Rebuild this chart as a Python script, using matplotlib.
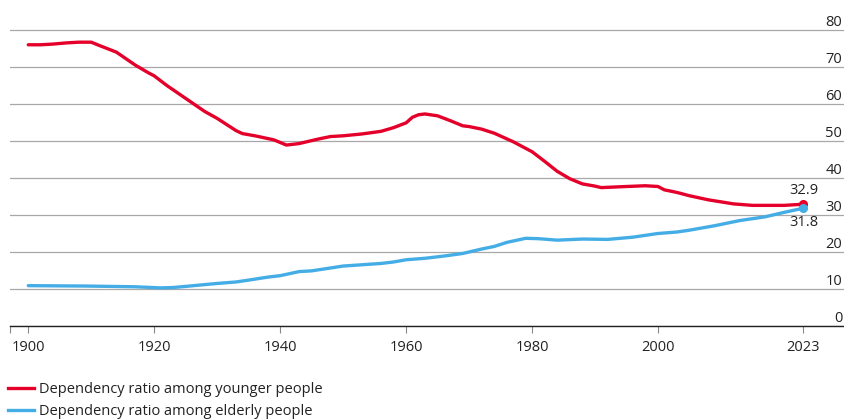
import numpy as np
import matplotlib
matplotlib.use("Agg")
import matplotlib.pyplot as plt
from matplotlib.lines import Line2D

plt.rcParams['font.family'] = ['Open Sans', 'DejaVu Sans']

# dependency ratio, younger people (per 100 working age)
young_years = [1900, 1902, 1904, 1906, 1908, 1910, 1911, 1914, 1917, 1919, 1920,
               1922, 1925, 1928, 1930, 1933, 1934, 1936, 1939, 1941, 1943, 1946,
               1948, 1950, 1953, 1956, 1958, 1960, 1961, 1962, 1963, 1965, 1967,
               1969, 1970, 1972, 1974, 1977, 1980, 1982, 1984, 1986, 1988, 1990,
               1991, 1995, 1998, 2000, 2001, 2003, 2005, 2008, 2012, 2015, 2020,
               2022, 2023]
young_vals = [76.0, 76.0, 76.2, 76.5, 76.7, 76.7, 76.0, 74.0, 70.5, 68.5, 67.6,
              65.0, 61.5, 58.0, 56.1, 52.8, 52.0, 51.4, 50.3, 48.9, 49.3, 50.5,
              51.2, 51.4, 51.9, 52.6, 53.6, 54.9, 56.4, 57.1, 57.3, 56.8, 55.5,
              54.1, 53.9, 53.2, 52.1, 49.8, 47.1, 44.5, 41.8, 39.8, 38.4, 37.8,
              37.4, 37.7, 37.9, 37.7, 36.8, 36.1, 35.2, 34.1, 33.0, 32.6, 32.6,
              32.8, 32.9]

# dependency ratio, elderly people
old_years = [1900, 1909, 1917, 1921, 1923, 1925, 1930, 1933, 1935, 1938, 1940,
             1943, 1945, 1950, 1956, 1958, 1960, 1963, 1966, 1969, 1972, 1974,
             1976, 1979, 1981, 1984, 1988, 1992, 1996, 2000, 2003, 2005, 2009,
             2013, 2017, 2020, 2023]
old_vals = [10.9, 10.8, 10.6, 10.3, 10.4, 10.7, 11.5, 11.9, 12.4, 13.2, 13.6,
            14.7, 14.9, 16.2, 16.9, 17.3, 17.9, 18.3, 18.9, 19.6, 20.8, 21.5,
            22.6, 23.7, 23.6, 23.2, 23.5, 23.4, 24.0, 25.0, 25.4, 25.9, 27.1,
            28.5, 29.5, 30.7, 31.8]

x_ticks = [1900, 1920, 1940, 1960, 1980, 2000, 2023]
y_ticks = [0, 10, 20, 30, 40, 50, 60, 70, 80]

RED = "#e4002b"
BLUE = "#45ade6"
GRID = "#a8a8a8"

W, H = 845, 419
fig = plt.figure(figsize=(W / 100, H / 100), dpi=100)
ax = fig.add_axes([10 / W, (H - 326) / H, 835 / W, 326 / H])

ax.plot(young_years, young_vals, color=RED, lw=2.4, solid_capstyle='round', zorder=3)
ax.plot(old_years, old_vals, color=BLUE, lw=2.4, solid_capstyle='round', zorder=3)
ax.plot(young_years[-1], young_vals[-1], 'o', color=RED, ms=5.5, zorder=4)
ax.plot(old_years[-1], old_vals[-1], 'o', color=BLUE, ms=5.5, zorder=4)

ax.annotate(f"{young_vals[-1]:.1f}", (young_years[-1], young_vals[-1]),
            xytext=(1, 10), textcoords='offset points', ha='center', va='center',
            fontsize=10.5, color='#222222')
ax.annotate(f"{old_vals[-1]:.1f}", (old_years[-1], old_vals[-1]),
            xytext=(1, -10), textcoords='offset points', ha='center', va='center',
            fontsize=10.5, color='#222222')

ax.set_xlim(1897.1, 2029.7)
ax.set_ylim(0, 88.1)

for s in ['top', 'right', 'left']:
    ax.spines[s].set_visible(False)
ax.spines['bottom'].set_color('#222222')
ax.spines['bottom'].set_linewidth(1.0)

ax.set_xticks(x_ticks)
ax.set_xticks([1897.1], minor=True)
ax.tick_params(axis='x', which='both', length=5, width=0.8, color='#888888',
               pad=5, labelsize=10.5, labelcolor='#222222')

ax.set_yticks(y_ticks)
ax.yaxis.tick_right()
ax.tick_params(axis='y', length=0, pad=-2, labelsize=10.5, labelcolor='#222222')
for lab in ax.get_yticklabels():
    lab.set_horizontalalignment('right')
    lab.set_verticalalignment('bottom')
ax.grid(axis='y', color=GRID, lw=0.9)
ax.set_axisbelow(True)

handles = [Line2D([], [], color=RED, lw=2.4),
           Line2D([], [], color=BLUE, lw=2.4)]
labels = ["Dependency ratio among younger people",
          "Dependency ratio among elderly people"]
fig.legend(handles, labels, loc='lower left', bbox_to_anchor=(8 / W, 0),
           frameon=False, fontsize=10.5, handlelength=1.8, handletextpad=0.3,
           labelspacing=0.45, borderpad=0.0, borderaxespad=0.0,
           labelcolor='#222222')

fig.savefig("out.png", dpi=100)
